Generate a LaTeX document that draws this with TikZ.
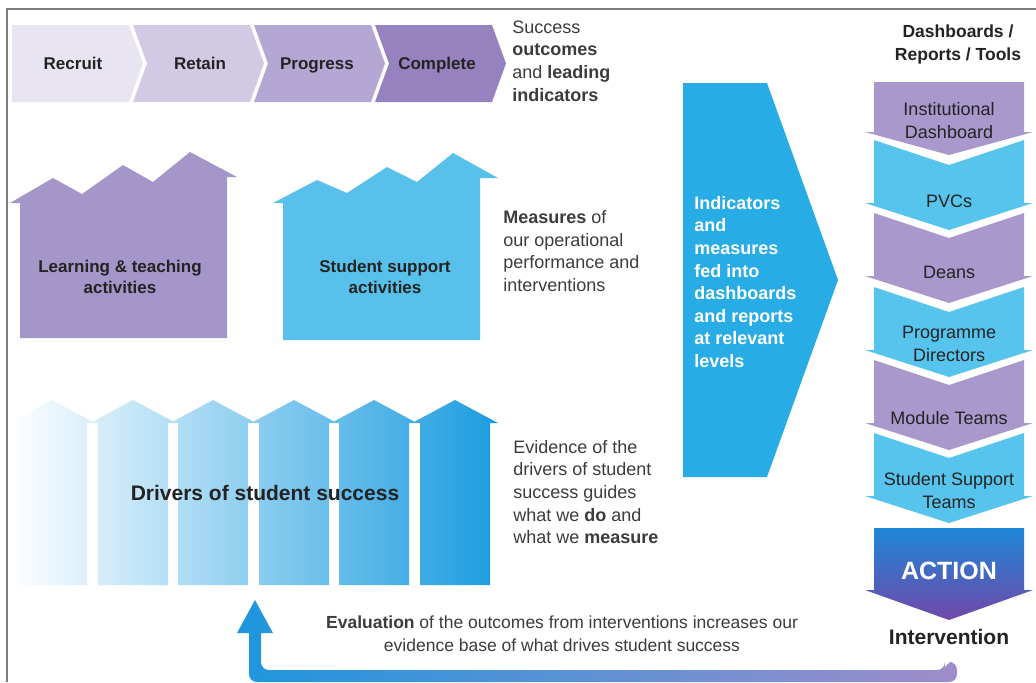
\documentclass[tikz,border=0pt]{standalone}
\usepackage{fontspec}
\setmainfont{Liberation Sans}
\definecolor{RecruitColor}{RGB}{233,228,242}
\definecolor{RetainColor}{RGB}{210,202,228}
\definecolor{ProgressColor}{RGB}{181,167,211}
\definecolor{CompleteColor}{RGB}{150,130,190}
\definecolor{TeachColor}{RGB}{165,150,202}
\definecolor{SupportColor}{RGB}{88,193,235}
\definecolor{DriverMid}{RGB}{105,197,238}
\definecolor{DriverColor}{RGB}{28,156,224}
\definecolor{FeedColor}{RGB}{40,172,230}
\definecolor{LevelPurple}{RGB}{168,152,204}
\definecolor{LevelCyan}{RGB}{86,196,236}
\definecolor{ActionTop}{RGB}{30,135,215}
\definecolor{ActionBottom}{RGB}{112,72,170}
\definecolor{LoopBlue}{RGB}{30,150,222}
\definecolor{LoopPurple}{RGB}{160,140,202}
\definecolor{TextColor}{RGB}{35,35,35}
\definecolor{NoteColor}{RGB}{60,60,60}
\definecolor{FrameColor}{RGB}{125,125,125}
\tikzset{
    frame/.style={draw=FrameColor, line width=1.2pt},
    stagetext/.style={font=\fontsize{8.5}{10}\selectfont\bfseries, text=TextColor, text height=1.6ex, text depth=0pt},
    housetext/.style={font=\fontsize{8.5}{10.5}\selectfont\bfseries, text=TextColor, align=center},
    notetext/.style={font=\fontsize{9}{11.3}\selectfont, text=NoteColor, align=left, anchor=west, inner sep=0pt},
    feedtext/.style={font=\fontsize{9}{11.3}\selectfont\bfseries, text=white, align=left, anchor=west, inner sep=0pt},
    leveltext/.style={font=\fontsize{9}{11.5}\selectfont, text=TextColor, align=center},
    headtext/.style={font=\fontsize{8.75}{11.5}\selectfont\bfseries, text=TextColor, align=center},
    purplelevel/.style={fill=LevelPurple},
    cyanlevel/.style={fill=LevelCyan}
}

\begin{document}
\begin{tikzpicture}[x=0.5pt, y=-0.5pt]

\fill[white] (0,0) rectangle (1036,682);
\useasboundingbox (0,0) rectangle (1036,682);

% Frame
\draw[frame] (7,682) -- (7,9) -- (1036,9);

% Stages
\fill[RecruitColor] (12,25) -- (129,25) -- (143,63.5) -- (129,102) -- (12,102) -- cycle;
\fill[RetainColor] (133,25) -- (250,25) -- (264,63.5) -- (250,102) -- (133,102) -- (147,63.5) -- cycle;
\fill[ProgressColor] (254,25) -- (371,25) -- (385,63.5) -- (371,102) -- (254,102) -- (268,63.5) -- cycle;
\fill[CompleteColor] (375,25) -- (492,25) -- (506,63.5) -- (492,102) -- (375,102) -- (389,63.5) -- cycle;
\node[stagetext] (recruit) at (73,61) {Recruit};
\node[stagetext] (retain) at (200,61) {Retain};
\node[stagetext] (progress) at (317,61) {Progress};
\node[stagetext] (complete) at (437,61) {Complete};
\node[notetext] (outcomes) at (512,61) {Success\\\textbf{outcomes}\\and \textbf{leading}\\\textbf{indicators}};

% Activities
\fill[TeachColor] (10,203) -- (53,178) -- (82,194) -- (123,165) -- (153,182) -- (190,152) -- (237,177)
    -- (227,177) -- (227,338) -- (20,338) -- (20,203) -- cycle;
\fill[SupportColor] (273,203) -- (317,180) -- (347,193) -- (387,167) -- (417,182) -- (453,153) -- (498,178)
    -- (480,178) -- (480,340) -- (283,340) -- (283,203) -- cycle;
\node[housetext] (teaching) at (120,277) {Learning \& teaching\\activities};
\node[housetext] (support) at (385,277) {Student support\\activities};
\node[notetext] (measures) at (503,251) {\textbf{Measures} of\\our operational\\performance and\\interventions};

% Drivers
\shade[left color=white, middle color=DriverMid, right color=DriverColor]
    (17,585) -- (17,423) -- (9,423) -- (52,400) -- (95,423) -- (87,423) -- (87,585) -- cycle
    (98,585) -- (98,423) -- (90,423) -- (133,400) -- (176,423) -- (168,423) -- (168,585) -- cycle
    (178,585) -- (178,423) -- (170,423) -- (213,400) -- (256,423) -- (248,423) -- (248,585) -- cycle
    (259,585) -- (259,423) -- (251,423) -- (294,400) -- (337,423) -- (329,423) -- (329,585) -- cycle
    (339,585) -- (339,423) -- (331,423) -- (374,400) -- (417,423) -- (409,423) -- (409,585) -- cycle
    (420,585) -- (420,423) -- (412,423) -- (455,400) -- (498,423) -- (490,423) -- (490,585) -- cycle;
\node[font=\fontsize{10.5}{12}\selectfont\bfseries, text=TextColor] (drivers) at (265,493) {Drivers of student success};
\node[notetext] (evidence) at (513,492) {Evidence of the\\drivers of student\\success guides\\what we \textbf{do} and\\what we \textbf{measure}};

% Feed into dashboards
\fill[FeedColor] (683,83) -- (767,83) -- (838,280) -- (767,477) -- (683,477) -- cycle;
\node[feedtext] (feed) at (694,282) {Indicators\\and\\measures\\fed into\\dashboards\\and reports\\at relevant\\levels};

% Dashboards / Reports / Tools
\node[headtext] (tools) at (958,44) {Dashboards /\\Reports / Tools};
\fill[purplelevel] (874,82) -- (1024,82) -- (1024,132) -- (1033,132) -- (949,155) -- (865,132) -- (874,132) -- cycle;
\fill[cyanlevel] (874,140) -- (949,165) -- (1024,140) -- (1024,203) -- (1033,203) -- (949,230) -- (865,203) -- (874,203) -- cycle;
\fill[purplelevel] (874,213) -- (949,238) -- (1024,213) -- (1024,276) -- (1033,276) -- (949,303) -- (865,276) -- (874,276) -- cycle;
\fill[cyanlevel] (874,287) -- (949,312) -- (1024,287) -- (1024,350) -- (1033,350) -- (949,377) -- (865,350) -- (874,350) -- cycle;
\fill[purplelevel] (874,360) -- (949,385) -- (1024,360) -- (1024,423) -- (1033,423) -- (949,450) -- (865,423) -- (874,423) -- cycle;
\fill[cyanlevel] (874,433) -- (949,458) -- (1024,433) -- (1024,496) -- (1033,496) -- (949,523) -- (865,496) -- (874,496) -- cycle;
\shade[top color=ActionTop, bottom color=ActionBottom]
    (874,528) -- (1024,528) -- (1024,590) -- (1033,590) -- (949,620) -- (865,590) -- (874,590) -- cycle;
\node[leveltext] (institution) at (949,121) {Institutional\\Dashboard};
\node[leveltext] (pvcs) at (949,201) {PVCs};
\node[leveltext] (deans) at (949,272) {Deans};
\node[leveltext] (directors) at (949,344) {Programme\\Directors};
\node[leveltext] (modules) at (949,418) {Module Teams};
\node[leveltext] (ssteams) at (949,491) {Student Support\\Teams};
\node[font=\fontsize{12.5}{14}\selectfont\bfseries, text=white] (action) at (949,571) {ACTION};
\node[font=\fontsize{10.5}{12}\selectfont\bfseries, text=TextColor] (intervention) at (949,637) {Intervention};

% Evaluation loop
\shade[left color=LoopBlue, right color=LoopPurple]
    (237,633) -- (255,600) -- (273,633) -- (261,633)
    [rounded corners=4pt] -- (261,670) -- (945,670) -- (945,662) -- (957,662)
    -- (957,682) -- (249,682) [sharp corners] -- (249,633) -- cycle;
\node[font=\fontsize{8.75}{11.5}\selectfont, text=NoteColor, align=center] (evaluation) at (562,634)
    {\textbf{Evaluation} of the outcomes from interventions increases our\\evidence base of what drives student success};

\end{tikzpicture}
\end{document}
